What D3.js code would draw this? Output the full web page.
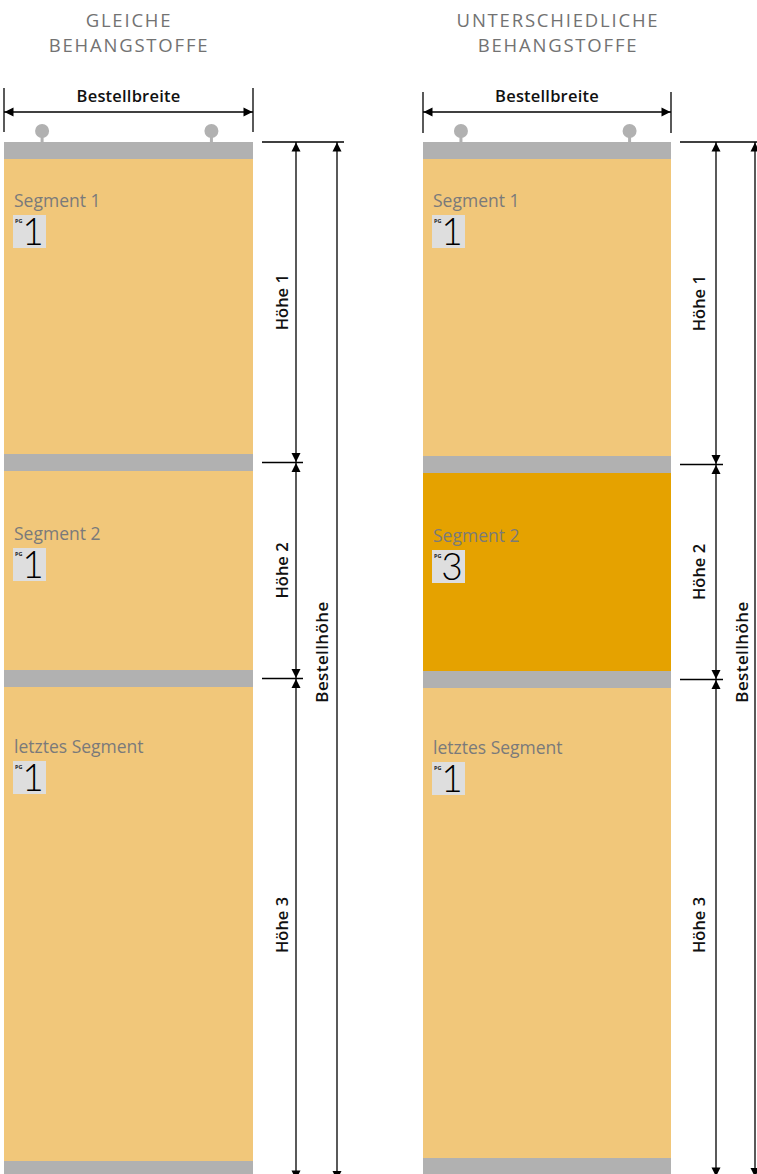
<!DOCTYPE html>
<html>
<head>
<meta charset="utf-8">
<script src="https://cdn.jsdelivr.net/npm/d3@7"></script>
<style>
  body { margin: 0; background: #fff; }
  svg { display: block; font-family: "Open Sans", "Noto Sans", sans-serif; }
</style>
</head>
<body>
<svg id="chart" width="757" height="1174"></svg>
<script>
// data
var panelTitles = [["GLEICHE", "BEHANGSTOFFE"], ["UNTERSCHIEDLICHE", "BEHANGSTOFFE"]];
var segmentNames = ["Segment 1", "Segment 2", "letztes Segment"];
var heightLabels = ["Höhe 1", "Höhe 2", "Höhe 3"];
var widthLabel = "Bestellbreite";
var totalLabel = "Bestellhöhe";
var pgLeft = [1, 1, 1];
var pgRight = [1, 3, 1];
var segHeightsLeft = [295, 199, 474];
var segHeightsRight = [297, 198, 470];
var railHeight = 17;

// layout
var W = 757, H = 1174;
var svg = d3.select("#chart");
var colLight = "#f1c77a", colDark = "#e5a200", colRail = "#b1b1b1";

var panels = [
    { x0: 4, x1: 253, titleX: 129, pg: pgLeft, seg: segHeightsLeft, hArrow: 296, hText: 282, bArrow: 337, bText: 322, tickTop: 88, tickBot: 132 },
    { x0: 423, x1: 671, titleX: 558, pg: pgRight, seg: segHeightsRight, hArrow: 716, hText: 699, bArrow: 755, bText: 742, tickTop: 92, tickBot: 133 }
];
var labelOffsets = [48, 69, 66];

function arrowHead(g, x, y, dir) {
    // dir: "up", "down", "left", "right" - tip at (x, y)
    var l = 9, w = 4.5, p;
    if (dir == "down") p = [[x, y], [x - w, y - l], [x + w, y - l]];
    if (dir == "up") p = [[x, y], [x - w, y + l], [x + w, y + l]];
    if (dir == "left") p = [[x, y], [x + l, y - w], [x + l, y + w]];
    if (dir == "right") p = [[x, y], [x - l, y - w], [x - l, y + w]];
    g.append("path").attr("d", d3.line()(p) + "Z").attr("fill", "#000");
}

panels.forEach(function (p, pi) {
    var g = svg.append("g");

    // build stack: rail, seg, rail, seg, rail, seg, rail
    var parts = [];
    var acc = 0;
    p.seg.forEach(function (h, i) {
        parts.push({ type: "rail", start: acc, h: railHeight });
        acc += railHeight;
        parts.push({ type: "seg", idx: i, start: acc, h: h, pg: p.pg[i] });
        acc += h;
    });
    parts.push({ type: "rail", start: acc, h: railHeight });
    acc += railHeight;

    var y = d3.scaleLinear().domain([0, acc]).range([142, 142 + acc]);
    var x = d3.scaleLinear().domain([0, 1]).range([p.x0, p.x1]);

    // title (two lines)
    panelTitles[pi].forEach(function (s, i) {
        g.append("text").attr("x", p.titleX).attr("y", 26.5 + i * 25.5)
            .attr("text-anchor", "middle").attr("fill", "#727272")
            .attr("font-size", 18.5).attr("letter-spacing", 1.8).text(s);
    });

    // segments
    g.selectAll("rect.part").data(parts).enter().append("rect")
        .attr("class", "part")
        .attr("x", x(0)).attr("width", x(1) - x(0))
        .attr("y", function (d) { return y(d.start); })
        .attr("height", function (d) { return y(d.start + d.h) - y(d.start); })
        .attr("fill", function (d) {
            if (d.type == "rail") return colRail;
            return d.pg == 3 ? colDark : colLight;
        });

    // hooks
    [0.153, 0.833].forEach(function (f) {
        var hx = x(f);
        g.append("rect").attr("x", hx - 1.5).attr("y", y(0) - 8).attr("width", 3).attr("height", 8).attr("fill", colRail);
        g.append("circle").attr("cx", hx).attr("cy", y(0) - 11).attr("r", 7).attr("fill", colRail);
    });

    // segment labels + PG badges
    var segs = parts.filter(function (d) { return d.type == "seg"; });
    segs.forEach(function (d) {
        var base = y(d.start) + labelOffsets[d.idx];
        g.append("text").attr("x", x(0) + 10).attr("y", base)
            .attr("font-size", 17.5).attr("fill", "#7a7a7a").text(segmentNames[d.idx]);
        var bx = x(0) + 9, by = base + 8;
        g.append("rect").attr("x", bx).attr("y", by).attr("width", 33).attr("height", 33).attr("fill", "#dedede");
        g.append("text").attr("x", bx + 2).attr("y", by + 8).attr("font-size", 5.5).attr("font-weight", 700)
            .attr("fill", "#222").text("PG");
        g.append("text").attr("x", bx + 20).attr("y", by + 30).attr("text-anchor", "middle")
            .attr("font-size", 37).attr("font-weight", 300).attr("fill", "#000")
            .attr("font-family", "Lato, 'Open Sans', sans-serif").text(d.pg);
    });

    // width dimension
    var dim = g.append("g").attr("stroke", "#000").attr("stroke-width", 1.3);
    dim.append("line").attr("x1", x(0)).attr("x2", x(0)).attr("y1", p.tickTop).attr("y2", p.tickBot);
    dim.append("line").attr("x1", x(1)).attr("x2", x(1)).attr("y1", p.tickTop).attr("y2", p.tickBot);
    dim.append("line").attr("x1", x(0)).attr("x2", x(1)).attr("y1", 112).attr("y2", 112);
    arrowHead(g, x(0) + 0.5, 112, "left");
    arrowHead(g, x(1) - 0.5, 112, "right");
    g.append("text").attr("x", (x(0) + x(1)) / 2).attr("y", 102).attr("text-anchor", "middle")
        .attr("font-size", 16.5).attr("font-weight", 600).attr("letter-spacing", 0.2)
        .attr("fill", "#111").text(widthLabel);

    // height dimensions
    var marks = [y(0)];
    parts.forEach(function (d, i) {
        if (d.type == "rail" && i > 0) marks.push(y(d.start + d.h / 2));
    });
    // last mark extends past the page bottom
    marks[marks.length - 1] = y(acc) + 2;

    var hd = g.append("g").attr("stroke", "#000").attr("stroke-width", 1.3);
    hd.append("line").attr("x1", x(1) + 9).attr("x2", p.bArrow + 7).attr("y1", marks[0]).attr("y2", marks[0]);
    for (var i = 1; i < marks.length - 1; i++) {
        hd.append("line").attr("x1", x(1) + 9).attr("x2", p.hArrow + 7).attr("y1", marks[i]).attr("y2", marks[i]);
    }
    hd.append("line").attr("x1", p.hArrow).attr("x2", p.hArrow).attr("y1", marks[0]).attr("y2", marks[marks.length - 1]);
    hd.append("line").attr("x1", p.bArrow).attr("x2", p.bArrow).attr("y1", marks[0]).attr("y2", marks[marks.length - 1]);

    for (var j = 0; j < marks.length - 1; j++) {
        arrowHead(g, p.hArrow, marks[j] + 0.5, "up");
        arrowHead(g, p.hArrow, marks[j + 1] - 0.5, "down");
        var cy = (marks[j] + Math.min(marks[j + 1], H)) / 2;
        if (j == 2) cy = 925;
        g.append("text").attr("transform", "translate(" + (p.hText + 6) + "," + cy + ") rotate(-90)")
            .attr("text-anchor", "middle").attr("font-size", 16.5).attr("font-weight", 600).attr("fill", "#111")
            .text(heightLabels[j]);
    }
    arrowHead(g, p.bArrow, marks[0] + 0.5, "up");
    arrowHead(g, p.bArrow, marks[marks.length - 1], "down");
    g.append("text").attr("transform", "translate(" + (p.bText + 6) + ",652) rotate(-90)")
        .attr("text-anchor", "middle").attr("font-size", 17).attr("font-weight", 600).attr("letter-spacing", 0.4)
        .attr("fill", "#111").text(totalLabel);
});
</script>
</body>
</html>
